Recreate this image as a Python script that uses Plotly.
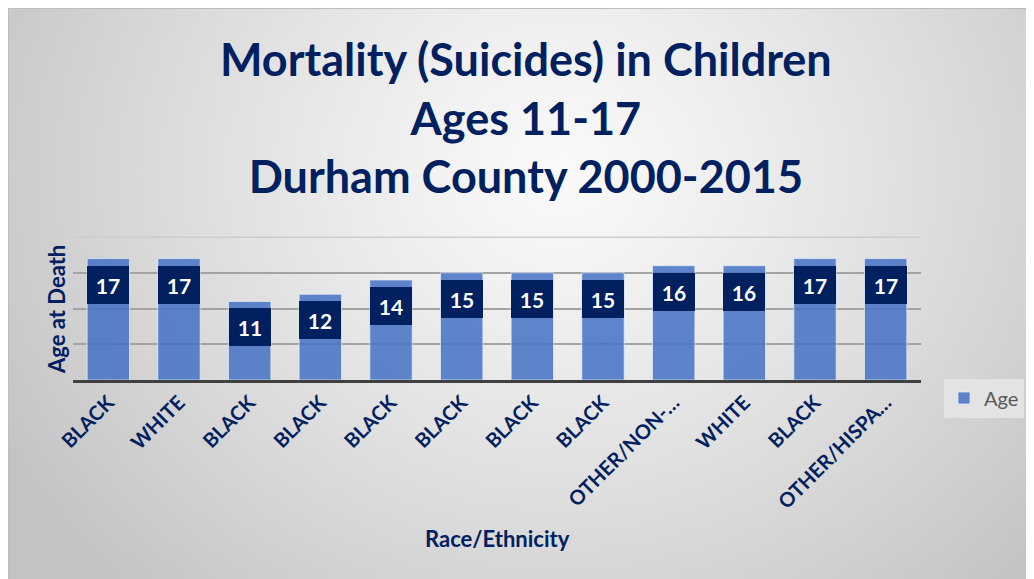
import base64, struct, zlib
import plotly.graph_objects as go

# ---- data ----
categories = ["BLACK", "WHITE", "BLACK", "BLACK", "BLACK", "BLACK", "BLACK", "BLACK",
              "OTHER/NON-…", "WHITE", "BLACK", "OTHER/HISPA…"]
ages = [17, 17, 11, 12, 14, 15, 15, 15, 16, 16, 17, 17]
y_grid = [0, 5, 10, 15]
y_top = 20
series_name = "Age"
title_lines = ["Mortality (Suicides) in Children", "Ages 11-17", "Durham County 2000-2015"]
x_title = "Race/Ethnicity"
y_title = "Age at Death"

# page has an 8px body margin: figure pixel = screen pixel - 8
OFF = 8
W, H = 1034 - OFF, 579 - OFF
L, R, T, B = 65, 113, 227, 199
PW, PH = W - L - R, H - T - B
NAVY = "#002060"
FONT = "Lato"

# ---- radial grey gradient background as a PNG data uri ----
def gradient_png(w, h):
    rows = []
    for j in range(h):
        y = OFF + (j + 0.5) / h * H
        row = bytearray([0])
        for i in range(w):
            x = OFF + (i + 0.5) / w * W
            dx = (x - 560) / 620.0
            dy = (y - 170) / 560.0
            d = (dx * dx + dy * dy) ** 0.5
            c = 250 - 52 * (d ** 1.2)
            c = int(max(196, min(250, c)))
            row += bytes([c, c, c])
        rows.append(bytes(row))
    raw = b"".join(rows)

    def chunk(t, data):
        return struct.pack(">I", len(data)) + t + data + struct.pack(">I", zlib.crc32(t + data) & 0xffffffff)

    png = b"\x89PNG\r\n\x1a\n"
    png += chunk(b"IHDR", struct.pack(">IIBBBBB", w, h, 8, 2, 0, 0, 0))
    png += chunk(b"IDAT", zlib.compress(raw, 9))
    png += chunk(b"IEND", b"")
    return "data:image/png;base64," + base64.b64encode(png).decode()

bg_uri = gradient_png(205, 114)

def sx(px):  # screen x -> paper x
    return (px - OFF - L) / PW

def sy(py):  # screen y -> paper y
    return (H - B - (py - OFF)) / PH

x_idx = list(range(len(categories)))

fig = go.Figure()
fig.add_trace(go.Bar(
    x=x_idx, y=ages, name=series_name,
    marker=dict(color="rgba(68,114,196,0.85)",
                line=dict(color="rgba(235,240,250,0.7)", width=1)),
    showlegend=True,
))

annotations = []
for xi, v in zip(x_idx, ages):
    annotations.append(dict(
        x=xi, y=v, xref="x", yref="y", text=f"<b>{v}</b>", showarrow=False,
        yanchor="top", yshift=-7, width=42, height=38, bgcolor=NAVY,
        borderpad=0, borderwidth=0, valign="middle",
        font=dict(family=FONT, size=21, color="white"),
    ))

annotations.append(dict(
    x=sx(526), y=sy(30), xref="paper", yref="paper",
    text="<br>".join(f"<b>{t}</b>" for t in title_lines),
    showarrow=False, xanchor="center", yanchor="top", align="center",
    font=dict(family=FONT, size=45, color=NAVY)))
annotations.append(dict(
    x=0.5, y=sy(538), xref="paper", yref="paper", text=f"<b>{x_title}</b>",
    showarrow=False, xanchor="center", yanchor="middle",
    font=dict(family=FONT, size=22, color=NAVY)))
annotations.append(dict(
    x=sx(56), y=sy(310), xref="paper", yref="paper", text=f"<b>{y_title}</b>",
    showarrow=False, xanchor="center", yanchor="middle", textangle=-90,
    font=dict(family=FONT, size=22, color=NAVY)))

fig.update_layout(
    width=W, height=H,
    margin=dict(l=L, r=R, t=T, b=B, autoexpand=False),
    paper_bgcolor="white", plot_bgcolor="rgba(0,0,0,0)",
    bargap=0.4,
    xaxis=dict(tickvals=x_idx, ticktext=[f"<b>{c}</b>" for c in categories],
               tickangle=-45, tickfont=dict(family=FONT, size=20, color=NAVY),
               showgrid=False, zeroline=False, showline=True, linecolor="#404040",
               linewidth=3, ticks="", range=[-0.5, len(categories) - 0.5],
               automargin=False),
    yaxis=dict(range=[0, 20.3], tickvals=y_grid, showticklabels=False,
               showgrid=True, gridcolor="#a3a3a3", gridwidth=1.5, zeroline=False,
               showline=False, automargin=False),
    legend=dict(x=sx(944), y=sy(398), xanchor="left", yanchor="middle",
                bgcolor="#e3e3e3", font=dict(family=FONT, size=20, color="#595959"),
                itemwidth=30),
    annotations=annotations,
    images=[dict(source=bg_uri, xref="paper", yref="paper",
                 x=-L / PW, y=(H - B) / PH,
                 sizex=W / PW, sizey=H / PH, sizing="stretch",
                 xanchor="left", yanchor="top", layer="below")],
    shapes=[
        dict(type="line", xref="paper", yref="y", x0=0, x1=1, y0=y_top, y1=y_top,
             line=dict(color="#cdcdcd", width=1.5), layer="below"),
        dict(type="line", xref="paper", yref="paper", x0=-L / PW, x1=(W - L) / PW,
             y0=(H - B) / PH, y1=(H - B) / PH, line=dict(color="#bdbdbd", width=2), layer="below"),
        dict(type="line", xref="paper", yref="paper", x0=-L / PW, x1=-L / PW,
             y0=-B / PH, y1=(H - B) / PH, line=dict(color="#bdbdbd", width=2), layer="below"),
    ],
)

fig.write_html("out.html")
